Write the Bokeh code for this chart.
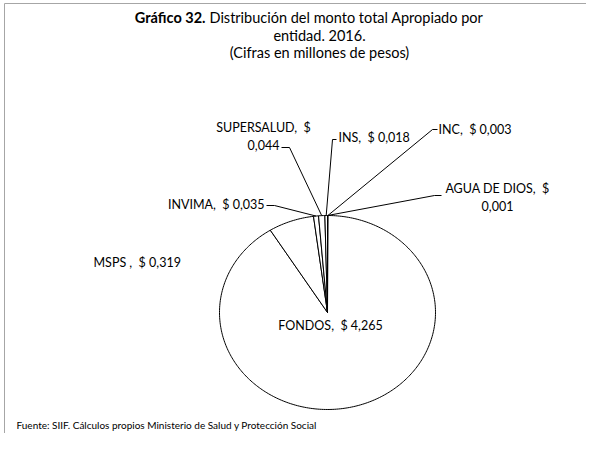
import math
from bokeh.plotting import figure
from bokeh.models import Range1d
from bokeh.core.properties import value
from bokeh.embed import file_html
from bokeh.resources import INLINE

# ---- data ----
entities = ["AGUA DE DIOS", "INC", "FONDOS", "MSPS ", "INVIMA", "SUPERSALUD", "INS"]
amounts = [0.001, 0.003, 4.265, 0.319, 0.035, 0.044, 0.018]

title_bold = "Gráfico 32."
title_rest = "Distribución del monto total Apropiado por"
title_line2 = "entidad. 2016."
title_line3 = "(Cifras en millones de pesos)"
source_note = "Fuente: SIIF. Cálculos propios Ministerio de Salud y Protección Social"

FONT = "Lato"
NB = "\u00a0"
W, H = 586, 433

p = figure(width=W, height=H, x_range=Range1d(8, 8 + W), y_range=Range1d(8 + H, 8),
           output_backend="svg", toolbar_location=None, min_border=0,
           x_axis_location=None, y_axis_location=None, outline_line_color=None,
           background_fill_color="white", border_fill_color="white")
p.grid.grid_line_color = None

# frame border (only top/left visible in crop)
p.line([12, 8 + W], [11, 11], line_color="#a6a6a6", line_width=1)
p.line([12, 12], [11, 8 + H], line_color="#a6a6a6", line_width=1)

# ---- pie (elliptical) ----
cx, cy, rx, ry = 335, 320, 108, 97
total = sum(amounts)
cum = 0.0
xs, ys, mids = [], [], []
for v in amounts:
    a0 = cum / total * 2 * math.pi
    cum += v
    a1 = cum / total * 2 * math.pi
    n = max(2, int((a1 - a0) / (2 * math.pi) * 360) + 2)
    pts = [a0 + (a1 - a0) * i / (n - 1) for i in range(n)]
    xs.append([cx] + [cx + rx * math.sin(t) for t in pts])
    ys.append([cy] + [cy - ry * math.cos(t) for t in pts])
    m = (a0 + a1) / 2
    mids.append((cx + rx * math.sin(m), cy - ry * math.cos(m)))

p.patches(xs, ys, fill_color="white", line_color="black", line_width=1)


def num(v):
    return f"{v:.3f}".replace(".", ",")


# label layout: entity -> (x, y, align, wrap, leader start points)
layout = {
    "AGUA DE DIOS": (505, 196, "center", True, [(449, 203), (442, 203)]),
    "INC": (446, 137, "left", False, [(445, 137), (440, 137)]),
    "FONDOS": (338, 333, "center", False, None),
    "MSPS ": (101, 270, "left", False, None),
    "INVIMA": (272, 212, "right", False, [(274, 213), (282, 213)]),
    "SUPERSALUD": (271, 135, "center", True, [(289, 155), (297, 155)]),
    "INS": (346, 145, "left", False, [(344, 147), (340, 147)]),
}

for i, (name, v) in enumerate(zip(entities, amounts)):
    x, y, align, wrap, lead = layout[name]
    if wrap:
        lines = [name + "," + NB + " $", num(v)]
    else:
        lines = [name + "," + NB + " $ " + num(v)]
    for k, t in enumerate(lines):
        p.text(x=[x], y=[y + 17 * k], text=[t], text_font=value(FONT), text_font_size="12.5px",
               text_align=align, text_baseline="middle", text_color="black")
    if lead:
        lx = [pt[0] for pt in lead] + [mids[i][0]]
        ly = [pt[1] for pt in lead] + [mids[i][1]]
        p.line(lx, ly, line_color="black", line_width=1)

# ---- title ----
p.text(x=[213], y=[25], text=[title_bold], text_font=value(FONT), text_font_size="14.5px",
       text_font_style="bold", text_align="right", text_baseline="middle", text_color="black")
p.text(x=[217], y=[25], text=[title_rest], text_font=value(FONT), text_font_size="14.5px",
       text_align="left", text_baseline="middle", text_color="black")
p.text(x=[327], y=[43], text=[title_line2], text_font=value(FONT), text_font_size="14.5px",
       text_align="center", text_baseline="middle", text_color="black")
p.text(x=[327], y=[60], text=[title_line3], text_font=value(FONT), text_font_size="14.5px",
       text_align="center", text_baseline="middle", text_color="black")

# ---- source ----
p.text(x=[24], y=[432], text=[source_note], text_font=value(FONT), text_font_size="10px",
       text_align="left", text_baseline="middle", text_color="black")

open("out.html", "w").write(file_html(p, INLINE))
